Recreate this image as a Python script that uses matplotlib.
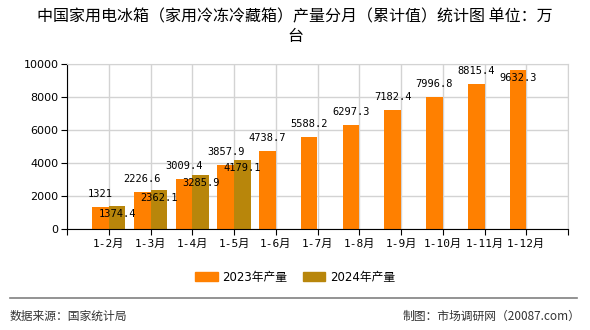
import numpy as np
import matplotlib
matplotlib.use("Agg")
import matplotlib.pyplot as plt
from matplotlib.lines import Line2D
from matplotlib.patches import Patch

plt.rcParams["font.family"] = ["DejaVu Sans", "Noto Sans CJK SC"]

months = ["1-2月", "1-3月", "1-4月", "1-5月", "1-6月", "1-7月",
          "1-8月", "1-9月", "1-10月", "1-11月", "1-12月"]
prod_2023 = [1321, 2226.6, 3009.4, 3857.9, 4738.7, 5588.2,
             6297.3, 7182.4, 7996.8, 8815.4, 9632.3]
prod_2024 = [1374.4, 2362.1, 3285.9, 4179.1]
labels_2023 = ["1321", "2226.6", "3009.4", "3857.9", "4738.7", "5588.2",
               "6297.3", "7182.4", "7996.8", "8815.4", "9632.3"]
labels_2024 = ["1374.4", "2362.1", "3285.9", "4179.1"]

c2023 = "#FF8000"
c2024 = "#B8860B"
mono = ["DejaVu Sans Mono", "Noto Sans CJK SC"]
ymax = 10000

fig = plt.figure(figsize=(5.9, 3.3), dpi=100)
ax = fig.add_axes([67 / 590, 101 / 330, 501 / 590, 165 / 330])

x = np.arange(len(months))
w = 0.4
ax.bar(x - w / 2, prod_2023, width=w, color=c2023, zorder=3)
x24 = x[:len(prod_2024)]
ax.bar(x24 + w / 2, prod_2024, width=w, color=c2024, zorder=3)

for xi, v, s in zip(x, prod_2023, labels_2023):
    # label above the bar, or pushed inside when it would leave the plot
    dy = 13 if v < ymax * 0.9 else -8
    ax.annotate(s, (xi - w / 2, v), xytext=(0, dy), textcoords="offset pixels",
                ha="center", va="center", fontsize=7.5, family=mono, zorder=5)
for xi, v, s in zip(x24, prod_2024, labels_2024):
    ax.annotate(s, (xi + w / 2, v), xytext=(0, -8), textcoords="offset pixels",
                ha="center", va="center", fontsize=7.5, family=mono, zorder=5)

ax.set_xlim(-1, len(months))
ax.set_ylim(0, ymax)
ax.set_yticks(np.arange(0, ymax + 1, 2000))
ax.set_xticks(np.arange(-1, len(months) + 1))
ax.set_xticklabels([""] + months + [""], family=mono, fontsize=8)
ax.tick_params(axis="y", labelsize=8, length=4, width=0.8, pad=2)
ax.tick_params(axis="x", length=4, width=0.8, pad=3)
ax.grid(True, color="#d3d3d3", linewidth=1, zorder=0)
for side in ["top", "right"]:
    ax.spines[side].set_color("#d3d3d3")
ax.spines["left"].set_color("black")
ax.spines["bottom"].set_color("black")
ax.spines["bottom"].set_zorder(4)

fig.text(0.5, 1 - 17 / 330, "中国家用电冰箱（家用冷冻冷藏箱）产量分月（累计值）统计图 单位：万",
         ha="center", va="center", fontsize=11.5, family=["Noto Sans CJK SC"])
fig.text(0.5, 1 - 36 / 330, "台", ha="center", va="center", fontsize=11.5,
         family=["Noto Sans CJK SC"])

handles = [Patch(color=c2023), Patch(color=c2024)]
fig.legend(handles, ["2023年产量", "2024年产量"], loc="center",
           bbox_to_anchor=(0.5, 1 - 277 / 330), ncol=2, frameon=False,
           handlelength=1.9, handleheight=0.85, columnspacing=1.3,
           handletextpad=0.4,
           prop={"family": ["DejaVu Sans", "Noto Sans CJK SC"], "size": 8.5})

fig.add_artist(Line2D([10 / 590, 577 / 590], [1 - 298 / 330, 1 - 298 / 330],
                      color="#808080", lw=1.2))
fig.text(10 / 590, 1 - 316 / 330, "数据来源：国家统计局", ha="left", va="center",
         fontsize=8.5, family=["Noto Sans CJK SC"], color="#333333")
fig.text(580 / 590, 1 - 316 / 330, "制图：市场调研网（20087.com）", ha="right",
         va="center", fontsize=8.5, family=["Noto Sans CJK SC"], color="#333333")

fig.savefig("out.png", dpi=100)
